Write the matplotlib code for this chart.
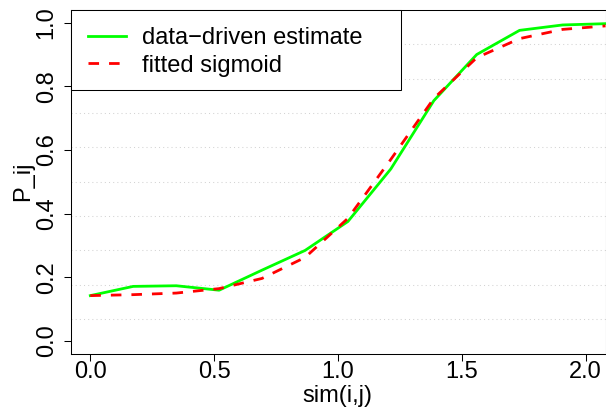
import matplotlib
matplotlib.use("Agg")
import matplotlib.pyplot as plt
from matplotlib.patches import Rectangle

plt.rcParams['font.family'] = ['Liberation Sans', 'DejaVu Sans']

# data
sim = [0.0, 0.173, 0.347, 0.52, 0.693, 0.867, 1.04, 1.213, 1.387, 1.56, 1.733, 1.907, 2.08]
estimate = [0.142, 0.171, 0.173, 0.159, 0.222, 0.284, 0.375, 0.54, 0.755, 0.900, 0.976, 0.993, 0.997]
sigmoid = [0.142, 0.145, 0.150, 0.164, 0.196, 0.262, 0.385, 0.570, 0.762, 0.890, 0.950, 0.979, 0.990]
xticks = [0.0, 0.5, 1.0, 1.5, 2.0]
yticks = [0.0, 0.2, 0.4, 0.6, 0.8, 1.0]
labels = ["data\u2212driven estimate", "fitted sigmoid"]

FS = 17
W, H = 606, 409
fig = plt.figure(figsize=(W / 100, H / 100), dpi=100)
ax = fig.add_axes([70.5 / W, 1 - 353.5 / H, 535 / W, 343.5 / H])

xlim = (-0.08, 2.08)
ylim = (-0.04, 1.04)
ax.set_xlim(*xlim)
ax.set_ylim(*ylim)

# dotted grid: 10 equal divisions of the plotting region (horizontal only)
for k in range(1, 10):
    gy = ylim[0] + (ylim[1] - ylim[0]) * k / 10
    ax.axhline(gy, color='#d3d3d3', lw=0.75, linestyle=(0, (1, 3)), zorder=0)

l1, = ax.plot(sim, estimate, color='#00ff00', lw=2.0, solid_joinstyle='round', zorder=3)
l2, = ax.plot(sim, sigmoid, color='#ff0000', lw=2.0, linestyle=(0, (3.8, 3.6)), zorder=4)

ax.set_xticks(xticks)
ax.set_xticklabels([f"{v:.1f}" for v in xticks])
ax.set_yticks(yticks)
ax.set_yticklabels([f"{v:.1f}" for v in yticks], rotation=90, va='center')
ax.tick_params(axis='both', labelsize=FS, length=4.7, width=0.75, color='black', direction='out')
ax.tick_params(axis='x', pad=0.5)
ax.tick_params(axis='y', pad=4.5)
for s in ax.spines.values():
    s.set_linewidth(0.75)
    s.set_color('black')

# axis titles
fig.text(337.5 / W, 1 - 402 / H, "sim(i,j)", fontsize=FS, ha='center', va='baseline')
fig.text(29.5 / W, 1 - 181.5 / H, "P_ij", fontsize=FS, ha='center', va='baseline',
         rotation=90, rotation_mode='anchor')

# legend box (R style)
ax_w, ax_h = 535, 343.5
rect = Rectangle((0, 1 - 80 / ax_h), 330 / ax_w, 80 / ax_h, transform=ax.transAxes,
                 facecolor='white', edgecolor='black', lw=0.75, zorder=5, clip_on=False)
ax.add_patch(rect)
leg = ax.legend([l1, l2], labels, loc='upper left', frameon=False, fontsize=FS,
                bbox_to_anchor=((87.7 - 70.5) / ax_w, 1 - 17 / ax_h), borderaxespad=0,
                borderpad=0, handlelength=1.62, handletextpad=0.7, labelspacing=0.24)
leg.set_zorder(6)

fig.savefig("out.png", dpi=100)
